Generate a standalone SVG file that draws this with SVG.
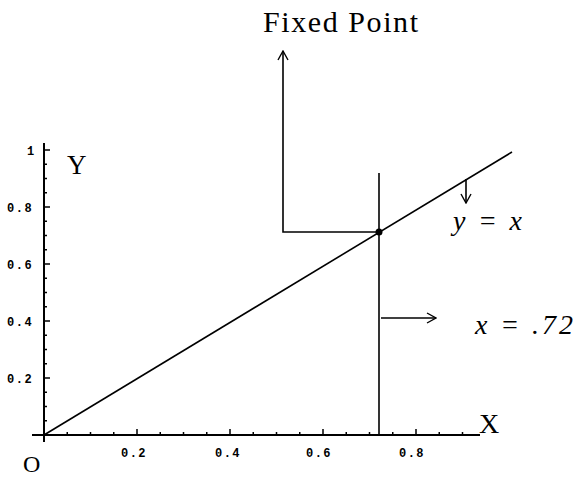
<svg xmlns="http://www.w3.org/2000/svg" width="577" height="478" viewBox="0 0 577 478">
<style>
.ax{stroke:#000;stroke-width:2;fill:none}
.tk{stroke:#000;stroke-width:1.5;fill:none}
.ln{stroke:#000;stroke-width:1.6;fill:none}
.num{font-family:"Liberation Mono",monospace;font-weight:bold;font-size:12px;letter-spacing:1.5px;fill:#000}
.lbl{font-family:"Liberation Serif","Times New Roman",serif;fill:#000}
.math{font-family:"Liberation Serif","Times New Roman",serif;font-style:italic;font-size:28px;fill:#000}
</style>
<defs>
<marker id="oa" viewBox="0 0 12 12" refX="11" refY="6" markerWidth="12" markerHeight="12" markerUnits="userSpaceOnUse" orient="auto">
<path d="M2,1 L11,6 L2,11" fill="none" stroke="#000" stroke-width="1.4"/>
</marker>
</defs>
<rect width="577" height="478" fill="#fff"/>
<g id="axes">
<path class="ax" d="M32,435 H480 M44,143 V442"/>
<path class="tk" d="M67.25,435v-3M90.5,435v-3M113.75,435v-3M137,435v-6M160.25,435v-3M183.5,435v-3M206.75,435v-3M230,435v-6M253.25,435v-3M276.5,435v-3M299.75,435v-3M323,435v-6M346.25,435v-3M369.5,435v-3M392.75,435v-3M416,435v-6M439.25,435v-3M462.5,435v-3"/>
<path class="tk" d="M44,420.75h3M44,406.5h3M44,392.25h3M44,378h6M44,363.75h3M44,349.5h3M44,335.25h3M44,321h6M44,306.75h3M44,292.5h3M44,278.25h3M44,264h6M44,249.75h3M44,235.5h3M44,221.25h3M44,207h6M44,192.75h3M44,178.5h3M44,164.25h3M44,150h6"/>
<text class="num" x="134" y="457" text-anchor="middle">0.2</text>
<text class="num" x="228" y="457" text-anchor="middle">0.4</text>
<text class="num" x="319" y="457" text-anchor="middle">0.6</text>
<text class="num" x="412" y="457" text-anchor="middle">0.8</text>
<text class="num" x="7" y="383">0.2</text>
<text class="num" x="7" y="326">0.4</text>
<text class="num" x="7" y="269">0.6</text>
<text class="num" x="7" y="212">0.8</text>
<text class="num" x="27" y="155" font-size="14">1</text>
<text class="lbl" x="67" y="174" font-size="27">Y</text>
<text class="lbl" x="479" y="433" font-size="28">X</text>
<text class="lbl" x="23" y="472" font-size="24">O</text>
</g>
<g id="curves">
<path class="ln" d="M44,435 L512,152"/>
<path class="ln" d="M379,173 V435"/>
</g>
<g id="fixed-point">
<circle cx="379" cy="232" r="3.5" fill="#000"/>
<text class="lbl" x="263" y="32" font-size="30" textLength="155" lengthAdjust="spacing">Fixed Point</text>
</g>
<g id="label-yx">
<text class="math" x="453" y="230" textLength="69" lengthAdjust="spacing">y = x</text>
</g>
<g id="label-x72">
<text class="math" x="475" y="334" textLength="98" lengthAdjust="spacing">x = .72</text>
</g>
<g id="connectors">
<path class="ln" d="M379,232 H283 V51" marker-end="url(#oa)"/>
<path class="ln" d="M466,179 V203" marker-end="url(#oa)"/>
<path class="ln" d="M381,318 H436" marker-end="url(#oa)"/>
</g>
</svg>
